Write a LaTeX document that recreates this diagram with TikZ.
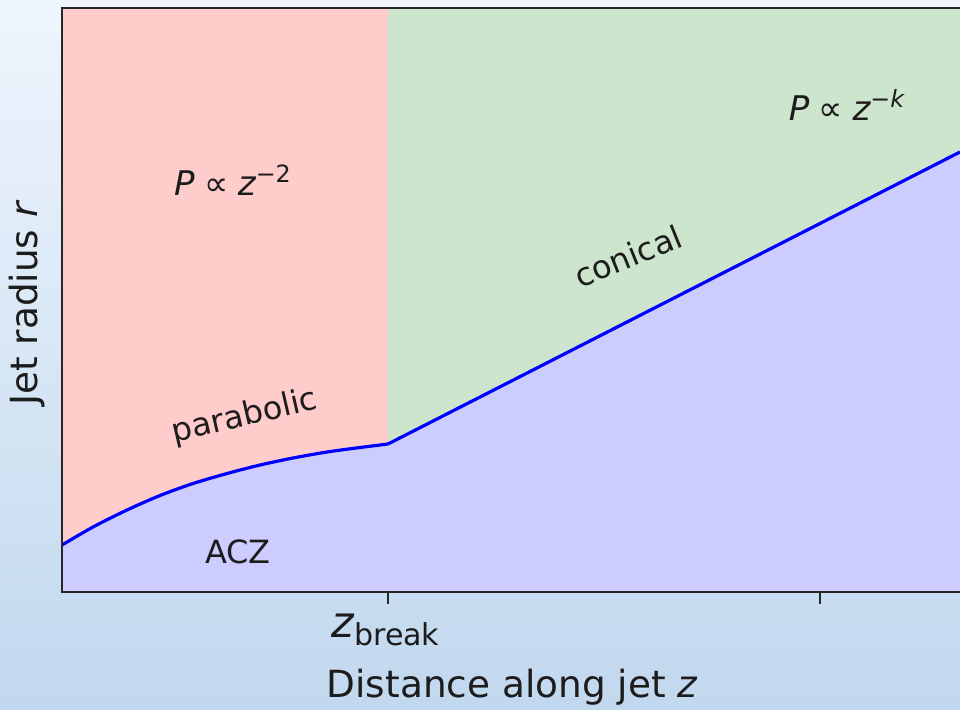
\documentclass[tikz,border=0pt]{standalone}
\usepackage{fontspec}
\setmainfont{DejaVu Sans}
\usepackage{xcolor}
\usepackage{tikz}
\usetikzlibrary{positioning}
\definecolor{jtBgTop}{HTML}{EEF5FD}
\definecolor{jtBgBot}{HTML}{C2D8EE}
\definecolor{jtRed}{HTML}{FFCCCC}
\definecolor{jtGreen}{HTML}{CCE5CC}
\definecolor{jtBlue}{HTML}{CCCCFF}
\definecolor{jtLine}{HTML}{0000FF}
\definecolor{jtAxis}{HTML}{262626}
\definecolor{jtText}{HTML}{1C1C1C}

\newcommand{\jprop}{\hspace{0.28em}∝\hspace{0.28em}}

\begin{document}
\begin{tikzpicture}[
    x=0.5pt,y=-0.5pt,
    ann/.style={text=jtText,font=\fontsize{16}{18}\selectfont,inner sep=0pt},
    law/.style={text=jtText,font=\fontsize{17}{20}\selectfont,inner sep=0pt},
    axlbl/.style={text=jtText,font=\fontsize{18.7}{22}\selectfont,inner sep=0pt},
    ticklbl/.style={text=jtText,font=\fontsize{21.5}{24}\selectfont,inner sep=0pt},
    spine/.style={draw=jtAxis,line width=1pt},
    tickmark/.style={draw=jtAxis,line width=0.8pt},
    jet/.style={draw=jtLine,line width=1.6pt,line join=round}
  ]
    \shade[top color=jtBgTop,bottom color=jtBgBot] (0,0) rectangle (960,709);
    \useasboundingbox (0,0) rectangle (960,709);

    \coordinate (brk) at (388,444);
    \coordinate (tip) at (960,152);

    % regimes
    \fill[jtRed]   (62,8)  rectangle (388,592);
    \fill[jtGreen] (388,8) rectangle (960,592);
    \fill[jtBlue] (62,592) -- plot[smooth] coordinates {(62,545) (93,527) (127,510) (160,495.5)
        (193,483.5) (227,473.5) (260,465) (293,458) (327,452) (360,447.5) (388,444)}
        -- (tip) -- (960,592) -- cycle;

    % jet boundary
    \draw[jet] plot[smooth] coordinates {(62,545) (93,527) (127,510) (160,495.5)
        (193,483.5) (227,473.5) (260,465) (293,458) (327,452) (360,447.5) (388,444)};
    \draw[jet] (brk) -- (tip);

    % axes
    \draw[spine] (960,8) -- (62,8) -- (62,592) -- (960,592);
    \draw[tickmark] (388,592) -- (388,604);
    \draw[tickmark] (820,592) -- (820,604);

    \node[law] (pw2) at (233,180) {{\itshape P}\jprop{\itshape z}\textsuperscript{−2}};
    \node[law] (pwk) at (847,105) {{\itshape P}\jprop{\itshape z}\textsuperscript{−\itshape k}};
    \node[ann,rotate=13] (parab) at (245,417) {parabolic};
    \node[ann,rotate=22] (conic) at (628,256) {conical};
    \node[ann] (acz) at (238,552) {ACZ};

    \node[ticklbl] (zbrk) at (386,630) {{\itshape z}\textsubscript{break}};
    \node[axlbl] (xlbl) at (512,687) {Distance along jet {\itshape z}};
    \node[axlbl,rotate=90] (ylbl) at (27,304) {Jet radius {\itshape r}};
  \end{tikzpicture}
\end{document}
